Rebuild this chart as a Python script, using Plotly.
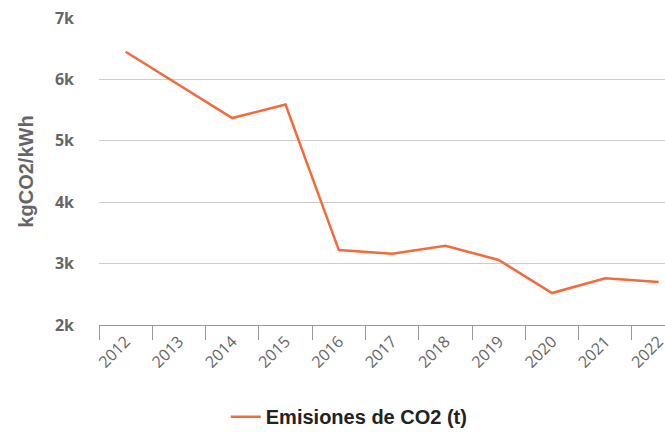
import plotly.graph_objects as go

years = ["2012", "2013", "2014", "2015", "2016", "2017", "2018", "2019", "2020", "2021", "2022"]
emisiones = [6450, 5910, 5370, 5590, 3220, 3160, 3290, 3060, 2520, 2760, 2700]

ytick_vals = [2000, 3000, 4000, 5000, 6000, 7000]
ytick_text = ["2k", "3k", "4k", "5k", "6k", "7k"]

ORANGE = "#F26B3A"

fig = go.Figure()

fig.add_trace(
    go.Scatter(
        x=years,
        y=emisiones,
        name="<b>Emisiones de CO2 (t)</b>",
        mode="lines",
        line={"color": ORANGE, "width": 2.5},
    )
)

fig.update_layout(
    width=665,
    height=437,
    margin={"l": 99, "r": 0, "t": 18, "b": 112},
    paper_bgcolor="white",
    plot_bgcolor="white",
    showlegend=True,
    # legend kept inside the bottom margin so plotly doesn't push the plot up
    legend=dict(
        orientation="h",
        x=0.224,
        xanchor="left",
        y=-0.362,
        yanchor="bottom",
        font=dict(family="Liberation Sans, Arial, sans-serif", size=20, color="#222"),
    ),
    font=dict(family="Open Sans, sans-serif", size=16, color="#666"),
    xaxis=dict(
        type="category",
        range=[-0.5, 10.12],
        tickson="boundaries",
        ticks="outside",
        ticklen=14,
        tickcolor="#999",
        tickangle=-45,
        showline=True,
        linecolor="#999",
        linewidth=1,
        showgrid=False,
        automargin=False,
        tickfont=dict(family="Open Sans, sans-serif", size=16, color="#666"),
    ),
    yaxis=dict(
        range=[2000, 7000],
        tickvals=ytick_vals,
        ticktext=["<b>%s</b>" % t for t in ytick_text],
        showgrid=True,
        gridcolor="#ccc",
        gridwidth=1,
        zeroline=False,
        ticks="",
        ticklabelstandoff=24,
        automargin=False,
        tickfont=dict(family="Open Sans, sans-serif", size=16, color="#666"),
        title=dict(
            text="<b>kgCO2/kWh</b>",
            font=dict(family="Liberation Sans, Arial, sans-serif", size=20, color="#666"),
        ),
    ),
)

# drop the default 8px body margin so the figure sits at the page corner
fig.write_html(
    "out.html",
    config={"displayModeBar": False},
    post_script="document.body.style.margin='0px';",
)
